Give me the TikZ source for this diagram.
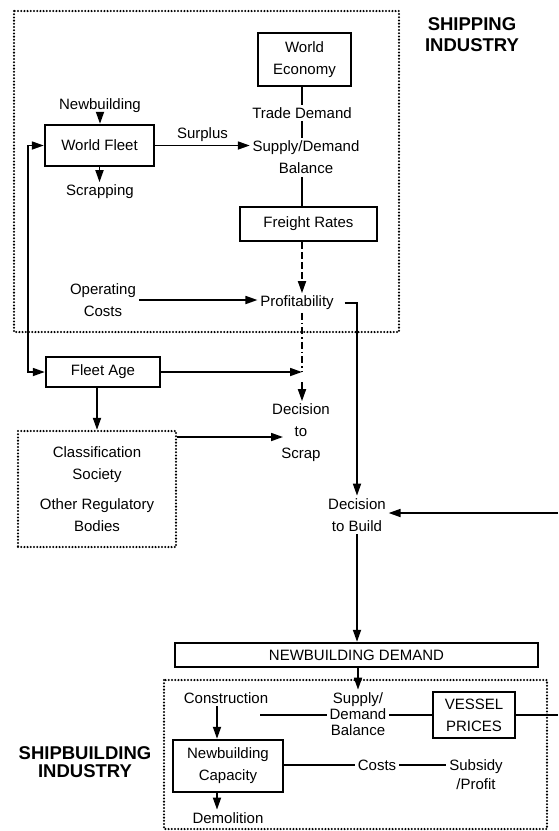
\documentclass[tikz,border=0pt]{standalone}
\usepackage{fontspec}
\setmainfont{Liberation Sans}
\usepackage{tikz}
\usetikzlibrary{arrows.meta}
\tikzset{>={Triangle[length=12pt,width=8pt]}}
\tikzset{
  box/.style={draw, line width=2.4pt, align=center, inner sep=0pt},
  txt/.style={align=center, inner sep=2pt},
  dotbox/.style={line width=2.3pt, line cap=round, dash pattern=on 0pt off 3.2pt},
  longdash/.style={dash pattern=on 7pt off 3pt},
  dashdotline/.style={dash pattern=on 7pt off 3pt on 1.5pt off 3pt},
  heading/.style={align=center, font=\fontsize{18.5}{21}\selectfont\bfseries},
}

\begin{document}
\begin{tikzpicture}[x=1pt, y=-1pt, line width=1.7pt, font=\fontsize{15}{22}\selectfont]
    \useasboundingbox (0,0) rectangle (558,831);

    % shipping industry
    \draw[dotbox] (14,11) rectangle (399,332);
    \node[heading] (shiptitle) at (472,35) {SHIPPING\\INDUSTRY};

    \node[box, minimum width=93pt, minimum height=53pt] (econ) at (304.5,59.5) {World\\Economy};
    \node[txt] (trade) at (302,113) {Trade Demand};
    \node[txt] (sdb) at (306,157.5) {Supply/Demand\\Balance};
    \node[box, minimum width=137pt, minimum height=34pt] (rates) at (308.5,224) {Freight Rates};
    \node[txt] (profit) at (297,303) {Profitability};
    \node[txt] (opcost) at (103,300) {Operating\\Costs};
    \node[box, minimum width=109pt, minimum height=41pt] (fleet) at (99.5,145.5) {World Fleet};
    \node[txt] (newb) at (100,106) {Newbuilding};
    \node[txt] (scrap) at (100,192) {Scrapping};

    \draw[->] (newb.south) -- (newb.south |- fleet.north);
    \draw[->] (fleet.south) -- (fleet.south |- scrap.north);
    \draw[->] (fleet.east) -- node[above]{Surplus} (fleet.east -| sdb.west);
    \draw (trade.north |- econ.south) -- (trade.north);
    \draw (trade.south) -- (sdb.north -| trade);
    \draw (sdb.south -| trade) -- (rates.north -| trade);
    \draw[->, longdash] (rates.south -| trade) -- (profit.north -| trade);
    \draw[->] (opcost.east) -- (opcost.east -| profit.west);

    % decisions
    \node[box, minimum width=114pt, minimum height=30pt] (age) at (103,372) {Fleet Age};
    \node[draw, dotbox, align=center, minimum width=158pt, minimum height=116pt] (class) at (97,489)
      {Classification\\Society\\[8pt]Other Regulatory\\Bodies};
    \node[txt] (dscrap) at (301,433) {Decision\\to\\Scrap};
    \node[txt] (dbuild) at (357,515) {Decision\\to Build};
    \coordinate (join) at (302,372);
    \coordinate (loop) at (28,260);
    \coordinate (feedin) at (558,513);

    \draw[->, shorten <=8pt] (profit.east) -| (dbuild.north);
    \draw[dashdotline] (profit.south -| trade) -- (join);
    \draw[->] (age.east) -- (join);
    \draw[->, shorten <=10pt] (join) -- (dscrap.north -| join);
    \draw[<->] (fleet.west) -| (loop) |- (age.west);
    \draw[->] (class.north |- age.south) -- (class.north);
    \draw[->] ([yshift=-4pt]class.east |- dscrap) -- ([xshift=-18pt,yshift=-4pt]dscrap.center);
    \draw[->] (feedin) -- (feedin -| dbuild.east);

    % shipbuilding industry
    \draw[dotbox] (164,680) rectangle (547,829);
    \node[heading, font=\fontsize{18.5}{18}\selectfont\bfseries] (buildtitle) at (85,762) {SHIPBUILDING\\INDUSTRY};

    \node[box, minimum width=363pt, minimum height=24pt] (demand) at (356.5,655) {NEWBUILDING DEMAND};
    \node[txt, font=\fontsize{15}{16}\selectfont] (sdb2) at (358,714) {Supply/\\Demand\\Balance};
    \node[txt] (constr) at (226,698) {Construction};
    \node[box, minimum width=110pt, minimum height=52pt] (capac) at (228,766) {Newbuilding\\Capacity};
    \node[txt] (demol) at (228,818) {Demolition};
    \node[txt] (costs) at (377,765) {Costs};
    \node[txt, font=\fontsize{15}{19}\selectfont] (subsidy) at (476,774.5) {Subsidy\\/Profit};
    \node[box, minimum width=82pt, minimum height=46pt] (prices) at (474,715) {VESSEL\\PRICES};
    \coordinate (conline) at (260,715);
    \coordinate (feedout) at (558,715);

    \draw[->] (dbuild.south) -- (demand.north -| dbuild.south);
    \draw[->] (demand.south -| sdb2) -- (sdb2.north);
    \draw (conline) -- (conline -| sdb2.west);
    \draw (sdb2.east |- prices) -- (prices.west);
    \draw (prices.east) -- (feedout);
    \draw[->] ([xshift=-9pt]constr.south) -- ([xshift=-9pt]constr.south |- capac.north);
    \draw[->] ([xshift=-11pt]capac.south) -- ([xshift=-11pt]capac.south |- demol.north);
    \draw (capac.east |- costs) -- (costs.west);
    \draw (costs.east) -- (costs.east -| subsidy.west);
\end{tikzpicture}
\end{document}
